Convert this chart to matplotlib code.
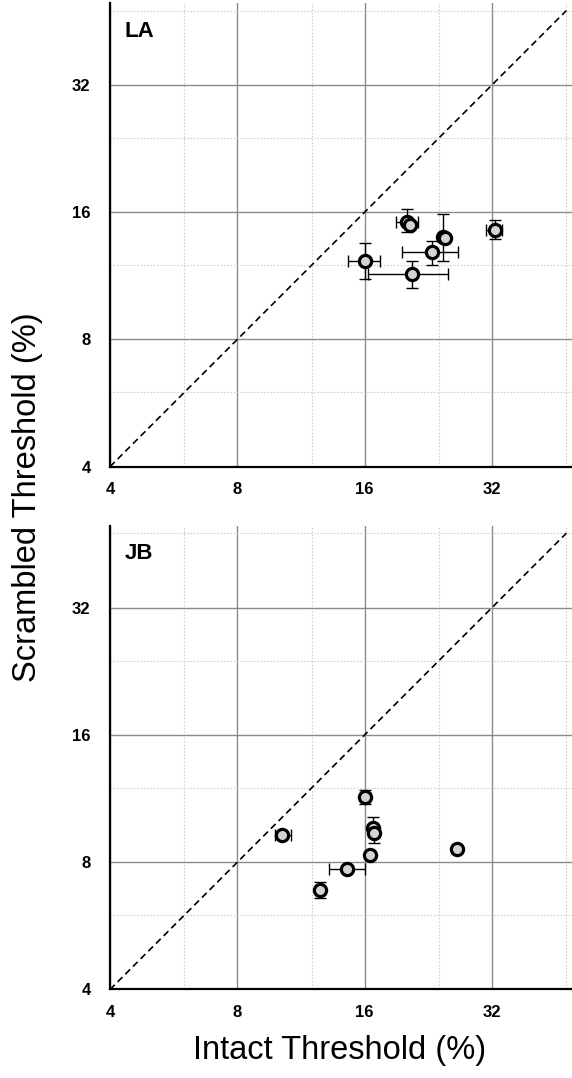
import matplotlib
matplotlib.use("Agg")
import matplotlib.pyplot as plt
from matplotlib.ticker import FixedLocator, NullFormatter, FixedFormatter

plt.rcParams['font.family'] = ['Liberation Sans', 'DejaVu Sans']

# Observer LA: intact / scrambled thresholds (%) with error bounds
la_intact = [16.0, 20.7, 23.1, 24.5, 24.8, 20.2, 20.5, 32.5]
la_intact_lo = [14.6, 16.3, 19.6, 24.3, 24.4, 19.0, 20.3, 31.0]
la_intact_hi = [17.4, 25.2, 26.6, 24.7, 25.2, 21.4, 20.7, 33.9]
la_scram = [12.25, 11.4, 12.85, 14.0, 13.9, 15.2, 14.95, 14.55]
la_scram_lo = [11.1, 10.6, 12.0, 12.25, 13.7, 14.35, 14.8, 13.8]
la_scram_hi = [13.5, 12.3, 13.65, 15.85, 14.1, 16.25, 15.1, 15.3]

# Observer JB
jb_intact = [10.2, 16.0, 16.75, 16.85, 16.45, 14.55, 12.55, 26.5]
jb_intact_lo = [9.8, 15.9, 16.6, 16.7, 16.45, 13.2, 12.55, 26.5]
jb_intact_hi = [10.7, 16.1, 16.9, 17.0, 16.45, 16.05, 12.55, 26.5]
jb_scram = [9.28, 11.43, 9.62, 9.39, 8.32, 7.70, 6.88, 8.60]
jb_scram_lo = [9.2, 11.0, 9.4, 8.86, 8.32, 7.70, 6.58, 8.60]
jb_scram_hi = [9.4, 11.85, 10.21, 9.6, 8.32, 7.70, 7.19, 8.60]

major_ticks = [4, 8, 16, 32]
minor_ticks = [6, 12, 24, 48]
tick_labels = ['4', '8', '16', '32']

fig = plt.figure(figsize=(5.72, 10.78), dpi=100)
ax_top = fig.add_axes([0.1923, 0.5671, 0.8077, 0.4300])
ax_bot = fig.add_axes([0.1923, 0.0821, 0.8077, 0.4302])


def draw_panel(ax, name, xi, xlo, xhi, ys, ylo, yhi):
    ax.set_xscale('log', base=2)
    ax.set_yscale('log', base=2)
    ax.set_xlim(4, 49.5)
    ax.set_ylim(4, 50)
    for axis in (ax.xaxis, ax.yaxis):
        axis.set_major_locator(FixedLocator(major_ticks))
        axis.set_major_formatter(FixedFormatter(tick_labels))
        axis.set_minor_locator(FixedLocator(minor_ticks))
        axis.set_minor_formatter(NullFormatter())
    ax.grid(True, which='major', color='#8a8a8a', lw=1.0, zorder=0)
    ax.grid(True, which='minor', color='#cfcfcf', lw=0.8, ls=(0, (1.5, 1.5)), zorder=0)
    ax.set_axisbelow(True)
    for s in ('top', 'right'):
        ax.spines[s].set_visible(False)
    for s in ('left', 'bottom'):
        ax.spines[s].set_linewidth(1.6)
        ax.spines[s].set_color('black')
    ax.tick_params(which='both', length=0)
    ax.tick_params(axis='x', pad=11, labelsize=12)
    ax.tick_params(axis='y', pad=14, labelsize=12)
    for lab in ax.get_xticklabels() + ax.get_yticklabels():
        lab.set_fontweight('bold')

    ax.plot([4, 48], [4, 48], color='black', ls=(0, (4, 2.5)), lw=1.2, zorder=2)

    xerr = [[x - lo for x, lo in zip(xi, xlo)], [hi - x for x, hi in zip(xi, xhi)]]
    yerr = [[y - lo for y, lo in zip(ys, ylo)], [hi - y for y, hi in zip(ys, yhi)]]
    ax.errorbar(xi, ys, xerr=xerr, yerr=yerr, fmt='none', ecolor='black',
                elinewidth=1.0, capsize=4.3, capthick=1.0, zorder=3)
    ax.plot(xi, ys, 'o', ms=8.8, mfc='#d3d3d3', mec='black', mew=2.3,
            ls='none', zorder=4)
    ax.text(0.032, 0.962, name, transform=ax.transAxes, fontsize=16,
            fontweight='bold', va='top', ha='left')


draw_panel(ax_top, 'LA', la_intact, la_intact_lo, la_intact_hi,
           la_scram, la_scram_lo, la_scram_hi)
draw_panel(ax_bot, 'JB', jb_intact, jb_intact_lo, jb_intact_hi,
           jb_scram, jb_scram_lo, jb_scram_hi)

fig.text(28 / 572, 1 - 497 / 1078, 'Scrambled Threshold (%)', rotation=90,
         fontsize=23.5, ha='center', va='center')
fig.text(340 / 572, 1 - 1050 / 1078, 'Intact Threshold (%)',
         fontsize=23.5, ha='center', va='center')

fig.savefig('out.png', dpi=100)
